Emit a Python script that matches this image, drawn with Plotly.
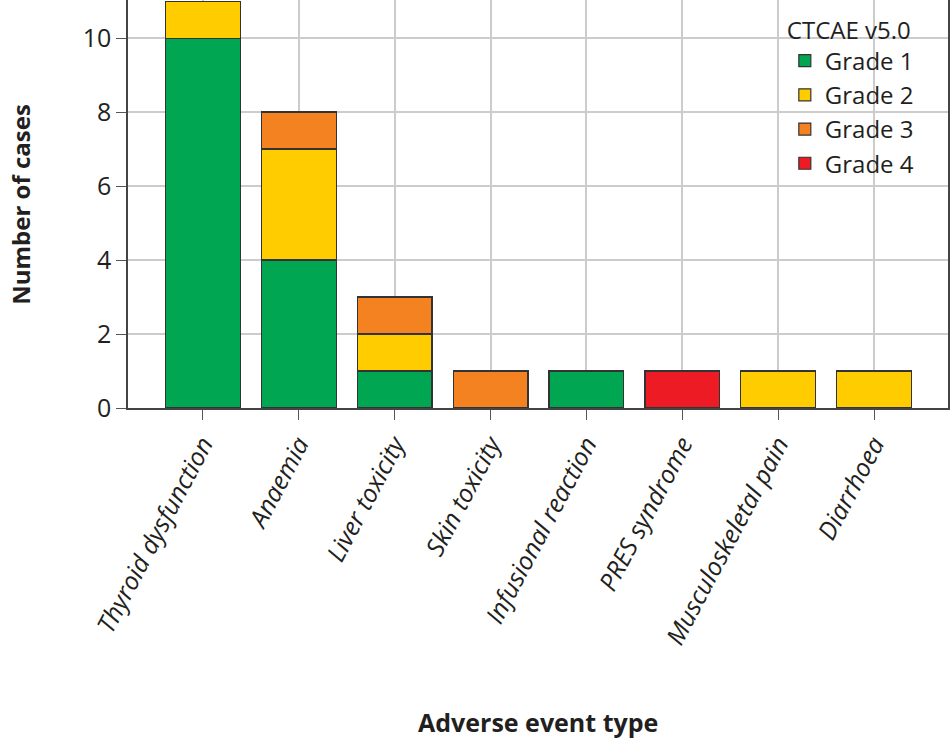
import plotly.graph_objects as go

categories = ["Thyroid dysfunction", "Anaemia", "Liver toxicity", "Skin toxicity",
              "Infusional reaction", "PRES syndrome", "Musculoskeletal pain", "Diarrhoea"]
grade1 = [10, 4, 1, 0, 1, 0, 0, 0]
grade2 = [1, 3, 1, 0, 0, 0, 1, 1]
grade3 = [0, 1, 1, 1, 0, 0, 0, 0]
grade4 = [0, 0, 0, 0, 0, 1, 0, 0]
series_names = ["Grade 1", "Grade 2", "Grade 3", "Grade 4"]
series_colors = ["#00A651", "#FFCC00", "#F58220", "#ED1C24"]
y_ticks = [0, 2, 4, 6, 8, 10]

FONT = "Open Sans"
TXT = "#231f20"
fig = go.Figure()
for name, vals, col in zip(series_names, [grade1, grade2, grade3, grade4], series_colors):
    fig.add_trace(go.Bar(
        x=list(range(len(categories))), y=vals, name=name,
        marker=dict(color=col, line=dict(color="#333333", width=1.2)),
        width=0.78,
    ))

fig.update_layout(
    barmode="stack",
    width=950, height=740,
    margin=dict(l=128, r=2, t=0, b=332),
    plot_bgcolor="white", paper_bgcolor="white",
    font=dict(family=FONT, color=TXT),
    legend=dict(
        title=dict(text="CTCAE v5.0", font=dict(size=24, family=FONT, color=TXT)),
        x=0.801, y=0.982, xanchor="left", yanchor="top",
        bgcolor="rgba(0,0,0,0)", font=dict(size=24, family=FONT, color=TXT),
        traceorder="normal", tracegroupgap=0, itemwidth=30,
    ),
    xaxis=dict(
        range=[-0.78, 7.77], automargin=False,
        tickmode="array", tickvals=list(range(len(categories))), ticktext=categories,
        tickangle=-62, tickfont=dict(size=25, family=FONT, style="italic", color=TXT),
        ticks="outside", ticklen=10, tickcolor="#555555",
        showgrid=True, gridcolor="#cccccc", gridwidth=1.5,
        showline=True, linecolor="#444444", linewidth=1.5, mirror=True,
        zeroline=False,
    ),
    yaxis=dict(
        range=[0, 11.03], automargin=False,
        tickmode="array", tickvals=y_ticks,
        tickfont=dict(size=25, family=FONT, color=TXT),
        ticks="outside", ticklen=10, tickcolor="#555555",
        showgrid=True, gridcolor="#cccccc", gridwidth=1.5,
        showline=True, linecolor="#444444", linewidth=1.5, mirror=True,
        zeroline=False,
    ),
    annotations=[
        dict(text="<b>Number of cases</b>", x=-0.132, y=0.5, xref="paper", yref="paper",
             textangle=-90, showarrow=False, font=dict(size=24, family=FONT, color=TXT),
             xanchor="center", yanchor="middle"),
        dict(text="<b>Adverse event type</b>", x=0.5, y=-0.77, xref="paper", yref="paper",
             showarrow=False, font=dict(size=25, family=FONT, color=TXT),
             xanchor="center", yanchor="middle"),
    ],
)

fig.write_html("out.html", config={"displayModeBar": False},
               post_script="document.body.style.margin='0';")
